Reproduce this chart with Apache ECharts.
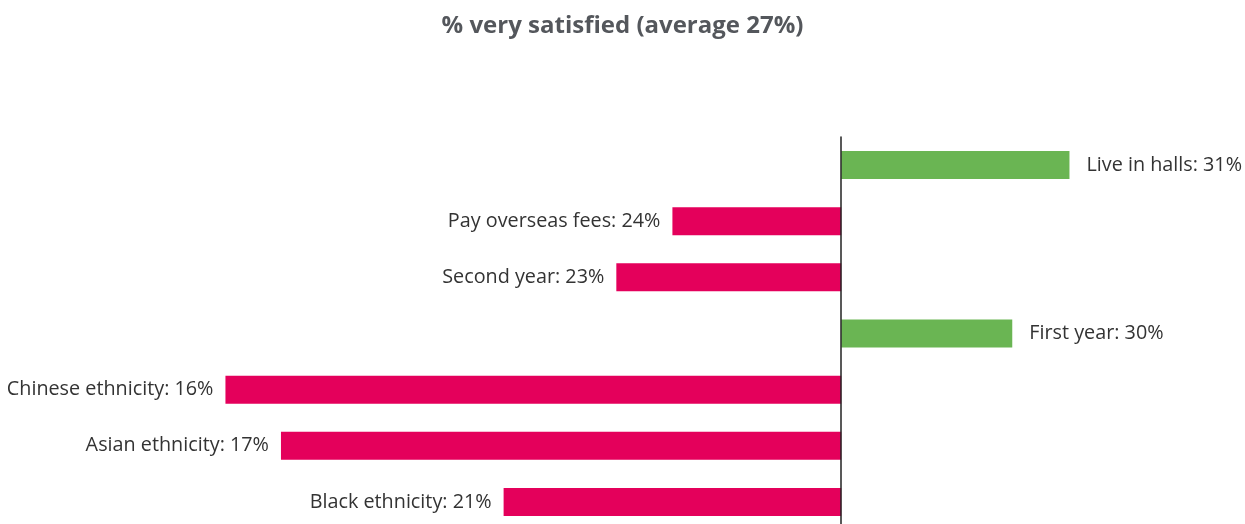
<!DOCTYPE html>
<html>
<head>
<meta charset="utf-8">
<script src="https://cdn.jsdelivr.net/npm/echarts@6/dist/echarts.min.js"></script>
<style>
  html, body { margin: 0; padding: 0; background: #fff; }
  #chart { width: 1245px; height: 524px; }
</style>
</head>
<body>
<div id="chart"></div>
<script>
// groups, top to bottom
var groups = ['Live in halls', 'Pay overseas fees', 'Second year', 'First year',
              'Chinese ethnicity', 'Asian ethnicity', 'Black ethnicity'];
// % very satisfied per group (as labelled)
var satisfied = [31, 24, 23, 30, 16, 17, 21];
var average = 27;
// gap to the average, points (unrounded)
var gap = [4.07, -3.01, -4.01, 3.05, -10.98, -9.99, -6.02];

var green = '#6ab553';
var pink = '#e4005b';

var chart = echarts.init(document.getElementById('chart'));

var barData = gap.map(function (d) {
    return {
        value: d,
        label: {
            position: d < 0 ? 'left' : 'right',
            distance: d < 0 ? 12 : 17
        }
    };
});

var option = {
    animation: false,
    title: {
        text: '% very satisfied (average ' + average + '%)',
        left: 'center',
        top: 9,
        textStyle: {
            fontFamily: 'Open Sans',
            fontWeight: 'bold',
            fontSize: 24,
            color: '#54575c'
        }
    },
    grid: {
        left: 0,
        right: 0,
        top: 137,
        height: 393,
        outerBoundsMode: 'none'
    },
    xAxis: {
        type: 'value',
        min: -15,
        max: 7.2,
        show: false
    },
    yAxis: {
        type: 'category',
        inverse: true,
        data: groups,
        axisLine: { show: true, lineStyle: { color: '#222', width: 1.5 } },
        axisTick: { show: false },
        axisLabel: { show: false },
        z: 5
    },
    series: [{
        type: 'bar',
        barWidth: 28,
        data: barData,
        itemStyle: {
            color: function (p) { return p.value < 0 ? pink : green; }
        },
        label: {
            show: true,
            fontFamily: 'Open Sans',
            fontSize: 19.8,
            color: '#333',
            formatter: function (p) {
                return groups[p.dataIndex] + ': ' + satisfied[p.dataIndex] + '%';
            }
        }
    }]
};

chart.setOption(option);
window.onresize = chart.resize;
</script>
</body>
</html>
